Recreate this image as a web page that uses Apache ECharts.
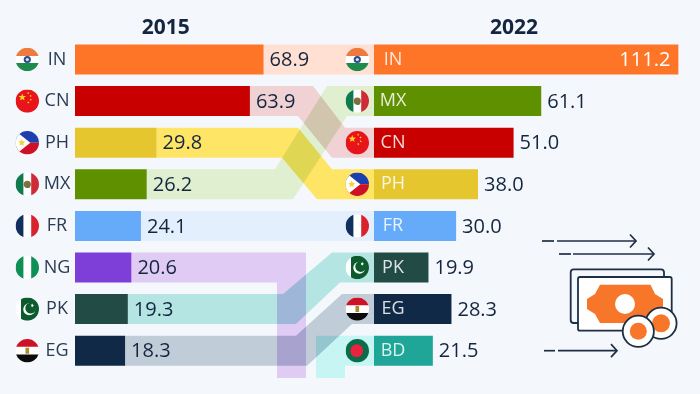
<!DOCTYPE html>
<html>
<head>
<meta charset="utf-8">
<script src="https://cdn.jsdelivr.net/npm/echarts@6/dist/echarts.min.js"></script>
<style>
html,body{margin:0;padding:0;background:#F4F7FB;}
#c{width:700px;height:394px;}
</style>
</head>
<body>
<div id="c"></div>
<script>
// Data
const countries2015 = ['IN','CN','PH','MX','FR','NG','PK','EG'];
const values2015 = [68.9,63.9,29.8,26.2,24.1,20.6,19.3,18.3];
const countries2022 = ['IN','MX','CN','PH','FR','PK','EG','BD'];
const values2022 = [111.2,61.1,51.0,38.0,30.0,19.9,28.3,21.5];
const years = ['2015','2022'];

// Styles
const barColors = {IN:'#FF7528',CN:'#C80000',PH:'#E6C62E',MX:'#5F9000',FR:'#66ABF9',NG:'#7E3FD9',PK:'#234B46',EG:'#0F2947',BD:'#1FA698'};
const ribbonColors = {IN:'#FFE0D2',CN:'#F0D2D4',PH:'#FFE566',MX:'#DFEFD0',FR:'#E3EFFD',NG:'#DFCBF3',PK:'#B5E5E3',EG:'#C0CDD8',BD:'#C6F5F3'};
const ink = '#14263F';
const font = '"Open Sans", sans-serif';
// Layout (pixels)
const LEFT_X = 75, RIGHT_X = 374, PX_PER_UNIT = 2.737, BAR_H = 30, FLAG_R = 11.7;
const FLAG_LEFT = 27.3, FLAG_RIGHT = 357.3, PLOT_TOP = 38.7, ROW_H = 41.6, DROP_Y = 378;
// ribbon bends: top edge start/end, bottom edge start/end
const bends = {CN:[313,345,298,332],MX:[275,327,293,347],PH:[298,332,282,317],PK:[283,332,296,340],EG:[296,342,307,352]};
const dropLeft = {NG:[277,306]};
const riseRight = {BD:[316,345]};

const allCountries = countries2015.concat(countries2022.filter(c => !countries2015.includes(c)));

function ribbonItem(params, api){
  const c = allCountries[params.dataIndex];
  const a = countries2015.indexOf(c), b = countries2022.indexOf(c);
  let pts;
  if (a >= 0 && b >= 0) {
    const x0 = api.coord([values2015[a], a])[0];
    const ya = api.coord([0, a])[1], yb = api.coord([0, b])[1];
    const h = BAR_H/2;
    if (bends[c]) {
      const q = bends[c];
      pts = [[x0,ya-h],[q[0],ya-h],[q[1],yb-h],[RIGHT_X,yb-h],[RIGHT_X,yb+h],[q[3],yb+h],[q[2],ya+h],[x0,ya+h]];
    } else {
      pts = [[x0,ya-h],[RIGHT_X,ya-h],[RIGHT_X,ya+h],[x0,ya+h]];
    }
  } else if (a >= 0) {
    const x0 = api.coord([values2015[a], a])[0], y = api.coord([0, a])[1], h = BAR_H/2, q = dropLeft[c];
    pts = [[x0,y-h],[q[1],y-h],[q[1],DROP_Y],[q[0],DROP_Y],[q[0],y+h],[x0,y+h]];
  } else {
    const y = api.coord([0, b])[1], h = BAR_H/2, q = riseRight[c];
    pts = [[q[0],DROP_Y],[q[0],y-h],[RIGHT_X,y-h],[RIGHT_X,y+h],[q[1],y+h],[q[1],DROP_Y]];
  }
  return {type:'polygon', shape:{points:pts}, style:{fill:ribbonColors[c]}};
}

function starPts(cx,cy,r,rot){
  const p=[];
  for(let i=0;i<10;i++){
    const R=i%2?r*0.42:r, t=-Math.PI/2+(rot||0)+i*Math.PI/5;
    p.push([cx+R*Math.cos(t),cy+R*Math.sin(t)]);
  }
  return p;
}
function flagChildren(c){
  const r = FLAG_R, d = 2*r;
  const rect=(x,y,w,h,fill)=>({type:'rect',shape:{x,y,width:w,height:h},style:{fill}});
  const circ=(cx,cy,rr,fill)=>({type:'circle',shape:{cx,cy,r:rr},style:{fill}});
  const star=(cx,cy,rr,rot,fill)=>({type:'polygon',shape:{points:starPts(cx,cy,rr,rot)},style:{fill}});
  switch(c){
    case 'IN': return [rect(-r,-r,d,d,'#FFFFFF'),rect(-r,-r,d,d/3+0.4,'#EF7A3E'),rect(-r,r/3-0.4,d,d/3+0.4,'#1E8A4C'),circ(0,0,3.6,'#2C4A8E'),circ(0,0,1.6,'#DDE3F0')];
    case 'CN': return [rect(-r,-r,d,d,'#E8141C'),star(-5,-3.8,3.9,0,'#FFD21E'),star(0.8,-8,1.3,0.4,'#FFD21E'),star(3.2,-5.2,1.3,0.8,'#FFD21E'),star(3.4,-1.4,1.3,0.2,'#FFD21E'),star(1,1.4,1.3,0.6,'#FFD21E')];
    case 'PH': return [rect(-r,-r,d,r,'#1E3FAE'),rect(-r,0,d,r,'#CE1126'),{type:'polygon',shape:{points:[[-r,-r],[3,0],[-r,r]]},style:{fill:'#FFFFFF'}},star(-5.6,0,3.8,0,'#F2D33A'),circ(-5.6,0,2,'#F2D33A')];
    case 'MX': return [rect(-r,-r,d,d,'#FFFFFF'),rect(-r,-r,d/3,d,'#0F7A4E'),rect(r/3,-r,d/3,d,'#CE2B37'),circ(0,0,3.6,'#8C6A3E'),circ(0.8,1.8,2,'#5E7A40')];
    case 'FR': return [rect(-r,-r,d,d,'#FFFFFF'),rect(-r,-r,d/3,d,'#12305E'),rect(r/3,-r,d/3,d,'#D8232F')];
    case 'NG': return [rect(-r,-r,d,d,'#FFFFFF'),rect(-r,-r,d/3,d,'#0E8F55'),rect(r/3,-r,d/3,d,'#0E8F55')];
    case 'PK': return [rect(-r,-r,d,d,'#FFFFFF'),rect(-r+5.4,-r,d,d,'#0C5B2E'),circ(2,0.2,6,'#FFFFFF'),circ(3.4,-1,5.4,'#0C5B2E'),star(5,-3.6,2,0.3,'#FFFFFF')];
    case 'EG': return [rect(-r,-r,d,d,'#FFFFFF'),rect(-r,-r,d,d/3,'#CE1126'),rect(-r,r/3,d,d/3,'#0B0B0B'),rect(-1.8,-3,3.6,6,'#B08A2E')];
    case 'BD': return [rect(-r,-r,d,d,'#0B6B4A'),circ(-0.6,0,6.4,'#E8223F')];
  }
  return [];
}
function flagItem(list, cx){
  return function(params, api){
    const y = api.coord([0, params.dataIndex])[1];
    return {type:'group', x:cx, y:y,
      clipPath:{type:'circle',shape:{cx:0,cy:0,r:FLAG_R}},
      children:flagChildren(list[params.dataIndex])};
  };
}

function barSeries(idx, list, vals, name, first){
  return {
    type:'bar', name, xAxisIndex:idx, yAxisIndex:idx, z:3, barWidth:BAR_H,
    data: vals.map((v,i)=>({value:v, itemStyle:{color:barColors[list[i]]},
      label:(first && i===0)?{position:'insideRight',distance:8,color:'#FFFFFF'}:undefined})),
    label:{show:true, position:'right', distance:6, fontFamily:font, fontSize:20, color:ink, offset:[0,1],
      formatter:p=>p.value.toFixed(1)},
    animation:false
  };
}
const W_RIGHT = 320;
const option = {
  animation:false,
  backgroundColor:'transparent',
  title:[
    {text:years[0], left:160.7, top:13, textAlign:'center', textStyle:{fontFamily:font,fontSize:21,fontWeight:700,color:ink}},
    {text:years[1], left:509, top:13, textAlign:'center', textStyle:{fontFamily:font,fontSize:21,fontWeight:700,color:ink}}
  ],
  grid:[
    {left:LEFT_X, top:PLOT_TOP, width:(RIGHT_X-LEFT_X), height:ROW_H*8},
    {left:RIGHT_X, top:PLOT_TOP, width:W_RIGHT, height:ROW_H*8}
  ],
  xAxis:[
    {gridIndex:0,type:'value',min:0,max:(RIGHT_X-LEFT_X)/PX_PER_UNIT,show:false},
    {gridIndex:1,type:'value',min:0,max:W_RIGHT/PX_PER_UNIT,show:false}
  ],
  yAxis:[
    {gridIndex:0,type:'category',inverse:true,data:countries2015,z:5,
      axisLine:{show:false},axisTick:{show:false},splitLine:{show:false},
      axisLabel:{align:'center',margin:18,padding:[2,0,0,0],fontFamily:font,fontSize:18,color:'#2A3B52'}},
    {gridIndex:1,type:'category',inverse:true,data:countries2022,z:5,
      axisLine:{show:false},axisTick:{show:false},splitLine:{show:false},
      axisLabel:{inside:true,align:'center',margin:19,padding:[2,0,0,0],fontFamily:font,fontSize:18,color:'rgba(255,255,255,0.85)'}}
  ],
  series:[
    {type:'custom',name:'flows',xAxisIndex:0,yAxisIndex:0,z:1,clip:false,silent:true,blendMode:'multiply',
      data:allCountries.map((c,i)=>[0,i]),renderItem:ribbonItem},
    barSeries(0,countries2015,values2015,years[0],false),
    barSeries(1,countries2022,values2022,years[1],true),
    {type:'custom',name:'flags2015',xAxisIndex:0,yAxisIndex:0,z:4,clip:false,silent:true,
      data:countries2015.map((c,i)=>[0,i]),renderItem:flagItem(countries2015,FLAG_LEFT)},
    {type:'custom',name:'flags2022',xAxisIndex:1,yAxisIndex:1,z:4,clip:false,silent:true,
      data:countries2022.map((c,i)=>[0,i]),renderItem:flagItem(countries2022,FLAG_RIGHT)}
  ],
  graphic:[{type:'group',silent:true,children:(function(){
    const nv='#1E2F45', or='#F7762A';
    const line=(x1,y1,x2,y2)=>({type:'line',shape:{x1,y1,x2,y2},style:{stroke:nv,lineWidth:1.7}});
    const arrow=(x0,x1,x2,x3,y)=>[line(x0,y,x1,y),line(x2,y,x3,y),
      {type:'polyline',shape:{points:[[x3-6,y-6.5],[x3,y],[x3-6,y+6.5]]},style:{stroke:nv,lineWidth:1.7,fill:null}}];
    const coin=(cx,cy,R,r)=>[{type:'circle',shape:{cx,cy,r:R},style:{fill:'#FFFFFF',stroke:nv,lineWidth:1.8}},
      {type:'circle',shape:{cx,cy,r},style:{fill:or}}];
    return [].concat(
      arrow(542,554,557,636,241),
      arrow(559,571,573,654,254),
      arrow(544,555,558,617,350.7),
      [{type:'rect',shape:{x:570.7,y:269.3,width:93.3,height:53.7,r:3},style:{fill:'#F4F7FB',stroke:nv,lineWidth:1.8}},
       {type:'rect',shape:{x:578,y:277,width:93.7,height:53.7,r:2},style:{fill:'#FFFFFF',stroke:nv,lineWidth:1.8}},
       {type:'polygon',shape:{points:[[600,284.7],[650.5,284.7],[655,294],[663,299],[663,309],[655,314],[650.5,323],[600,323],[595,314],[587,309],[587,299],[595,294]]},style:{fill:or}},
       {type:'circle',shape:{cx:625,cy:304,r:10},style:{fill:'#FFFFFF'}}],
      coin(661,323.3,15.6,9),
      coin(638.3,331.3,15.6,8.5)
    );
  })()}]
};
const chart = echarts.init(document.getElementById('c'),null,{renderer:'canvas',width:700,height:394});
chart.setOption(option);
</script>
</body>
</html>
